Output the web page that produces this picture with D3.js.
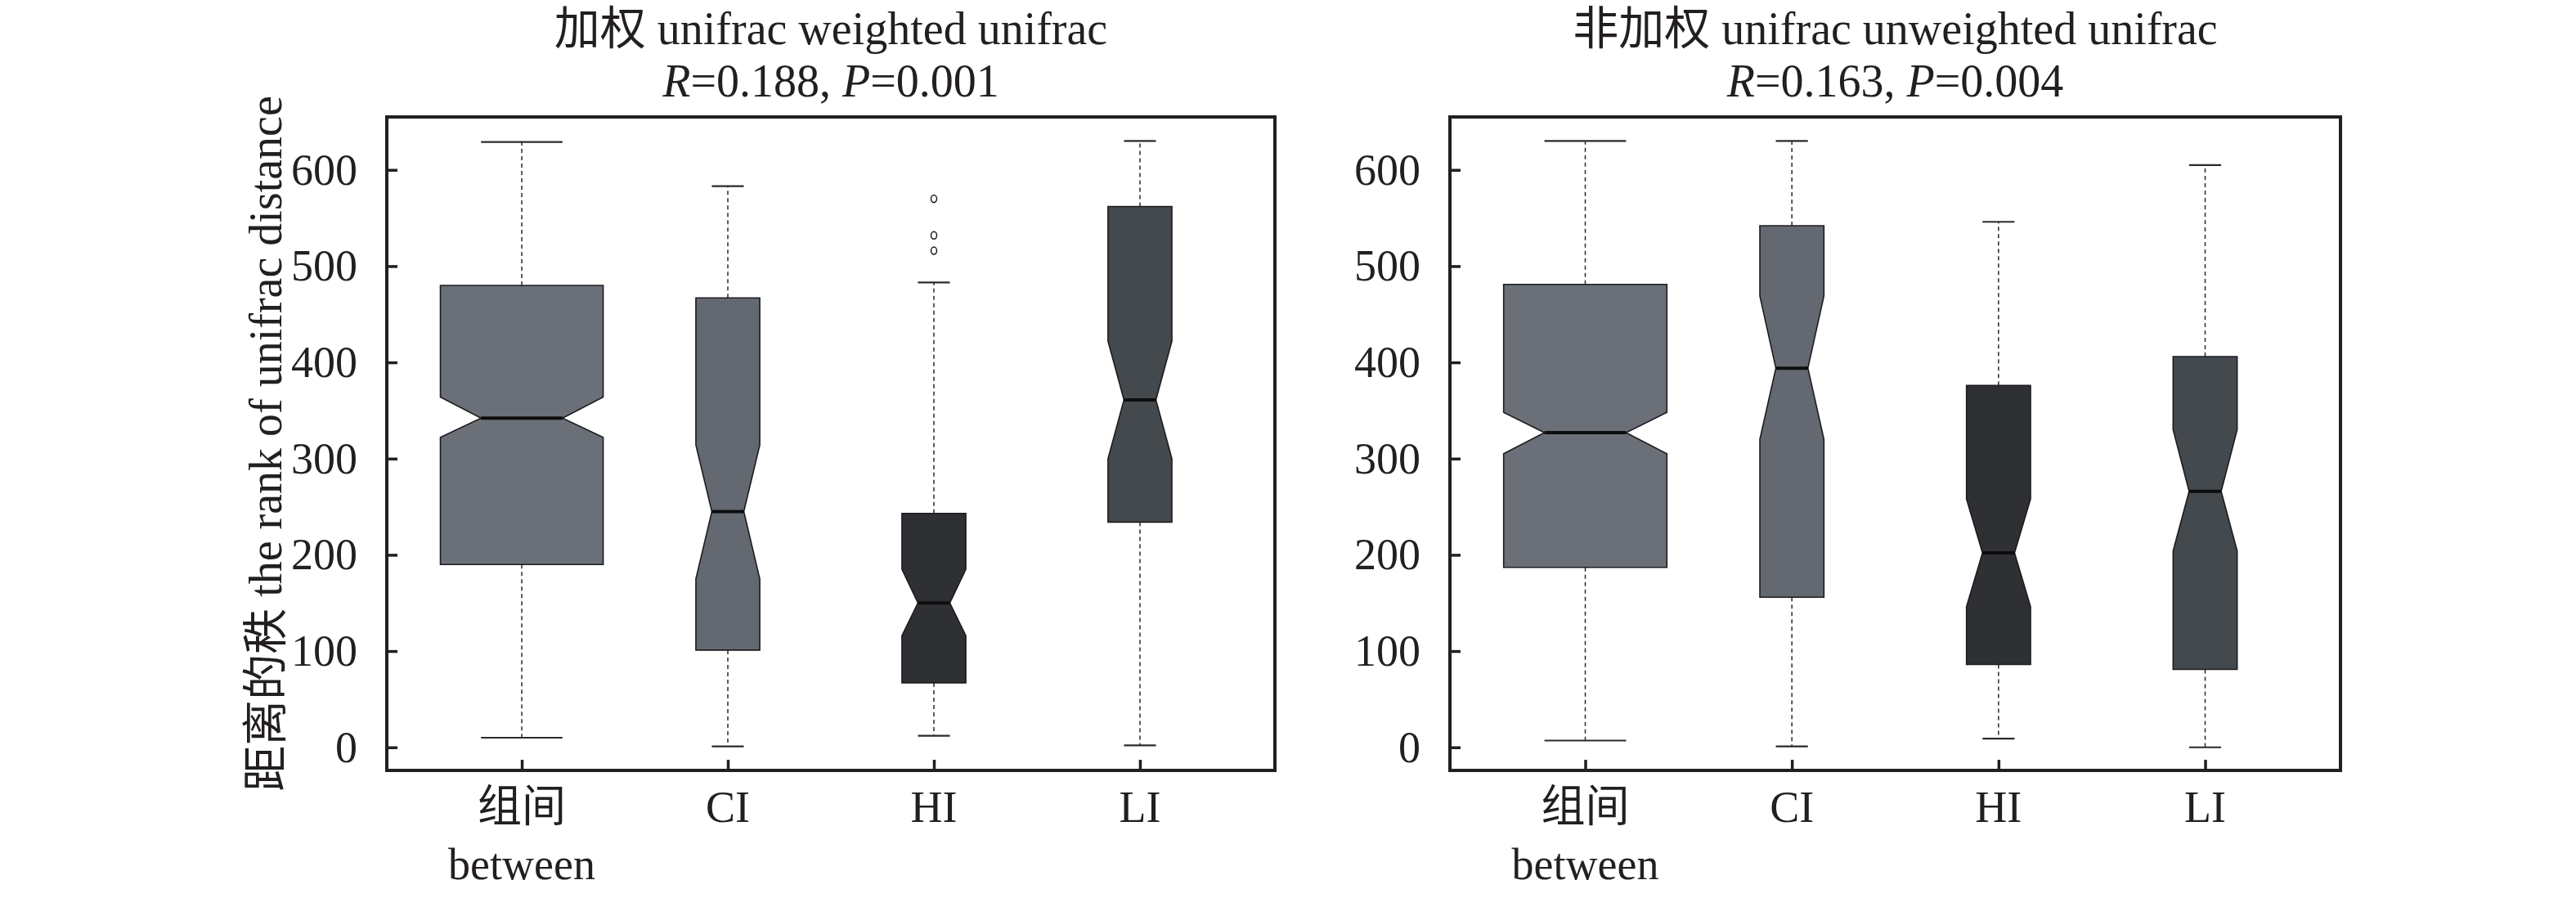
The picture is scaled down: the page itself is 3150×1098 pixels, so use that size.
<!DOCTYPE html>
<html>
<head>
<meta charset="utf-8">
<script src="https://cdn.jsdelivr.net/npm/d3@7"></script>
<style>
  html, body { margin: 0; padding: 0; background: #fff; }
  svg { display: block; }
  text { font-family: "Liberation Serif", "Times New Roman", "Noto Sans CJK SC", serif; fill: #231f20; }
</style>
</head>
<body>
<svg id="chart" width="3150" height="1098"></svg>
<script>
// ---------- data ----------
const categories = ["between", "CI", "HI", "LI"];
const categoryLabelsTop = ["组间", "CI", "HI", "LI"];
const categoryLabelsBottom = ["between", "", "", ""];
const yTicks = [0, 100, 200, 300, 400, 500, 600];

const panelTitles = ["加权 unifrac weighted unifrac", "非加权 unifrac unweighted unifrac"];
const panelR = ["0.188", "0.163"];
const panelP = ["0.001", "0.004"];
const yAxisLabel = "距离的秩 the rank of unifrac distance";

// weighted unifrac
const wWhiskerLow  = [10, 1, 12, 2];
const wQ1          = [190, 101, 67, 234];
const wNotchLow    = [322, 175, 116, 300];
const wMedian      = [342, 245, 150, 361];
const wNotchHigh   = [364, 314, 185, 422];
const wQ3          = [480, 467, 243, 562];
const wWhiskerHigh = [629, 583, 483, 630];
const wOutliers    = [[], [], [516, 532, 570], []];

// unweighted unifrac
const uWhiskerLow  = [7, 1, 9, 0];
const uQ1          = [187, 156, 86, 81];
const uNotchLow    = [305, 320, 146, 204];
const uMedian      = [327, 394, 202, 266];
const uNotchHigh   = [348, 469, 258, 330];
const uQ3          = [481, 542, 376, 406];
const uWhiskerHigh = [630, 630, 546, 605];
const uOutliers    = [[], [], [], []];

// ---------- styles / layout ----------
const boxColors = ["#6b7078", "#646971", "#2e3034", "#44494e"];
const boxWidthFrac = [0.79, 0.31, 0.31, 0.31];
const FONT = 54;
const TITLE_FONT = 56;
const SERIF = "'Liberation Serif', 'Times New Roman', 'Noto Sans CJK SC', serif";

const panels = [
  { x0: 473, x1: 1559, title: panelTitles[0], R: panelR[0], P: panelP[0],
    lo: wWhiskerLow, q1: wQ1, nl: wNotchLow, med: wMedian, nh: wNotchHigh, q3: wQ3, hi: wWhiskerHigh, out: wOutliers, ylabel: true },
  { x0: 1773, x1: 2862, title: panelTitles[1], R: panelR[1], P: panelP[1],
    lo: uWhiskerLow, q1: uQ1, nl: uNotchLow, med: uMedian, nh: uNotchHigh, q3: uQ3, hi: uWhiskerHigh, out: uOutliers, ylabel: false }
];
const plotTop = 143, plotBottom = 942;

const svg = d3.select("#chart");
const y = d3.scaleLinear().domain([-24, 655]).range([plotBottom, plotTop]);

panels.forEach(p => {
  const g = svg.append("g").attr("font-family", SERIF);
  const x = d3.scalePoint().domain(categories).range([p.x0, p.x1]).padding(0.655);
  const step = x.step();
  const cx0 = (p.x0 + p.x1) / 2;

  // title
  g.append("text").attr("x", cx0).attr("y", 54).attr("text-anchor", "middle")
    .style("font-size", TITLE_FONT + "px").text(p.title);
  const t2 = g.append("text").attr("x", cx0).attr("y", 118).attr("text-anchor", "middle")
    .style("font-size", TITLE_FONT + "px");
  t2.append("tspan").style("font-style", "italic").text("R");
  t2.append("tspan").text("=" + p.R + ", ");
  t2.append("tspan").style("font-style", "italic").text("P");
  t2.append("tspan").text("=" + p.P);

  categories.forEach((c, i) => {
    const cx = x(c);
    const hw = step * boxWidthFrac[i] / 2;
    const hm = hw * 0.5;
    const Q3 = y(p.q3[i]), Q1 = y(p.q1[i]), NH = y(p.nh[i]), NL = y(p.nl[i]), MD = y(p.med[i]);
    const HI = y(p.hi[i]), LO = y(p.lo[i]);

    // whiskers
    const wg = g.append("g").attr("stroke", "#2a2a2a").attr("stroke-width", 1.5).attr("stroke-dasharray", "5,4");
    wg.append("line").attr("x1", cx).attr("x2", cx).attr("y1", Q3).attr("y2", HI);
    wg.append("line").attr("x1", cx).attr("x2", cx).attr("y1", Q1).attr("y2", LO);
    // caps
    const cg = g.append("g").attr("stroke", "#2a2a2a").attr("stroke-width", 2.2);
    cg.append("line").attr("x1", cx - hm).attr("x2", cx + hm).attr("y1", HI).attr("y2", HI);
    cg.append("line").attr("x1", cx - hm).attr("x2", cx + hm).attr("y1", LO).attr("y2", LO);

    // notched box
    const poly = [
      [cx - hw, Q3], [cx + hw, Q3], [cx + hw, NH], [cx + hm, MD],
      [cx + hw, NL], [cx + hw, Q1], [cx - hw, Q1], [cx - hw, NL],
      [cx - hm, MD], [cx - hw, NH]
    ];
    g.append("path").attr("d", d3.line()(poly) + "Z")
      .attr("fill", boxColors[i]).attr("stroke", "#1c1c1e").attr("stroke-width", 1.6);
    g.append("line").attr("x1", cx - hm).attr("x2", cx + hm).attr("y1", MD).attr("y2", MD)
      .attr("stroke", "#0d0d0d").attr("stroke-width", 4);

    // outliers
    g.selectAll(null).data(p.out[i]).enter().append("ellipse")
      .attr("cx", cx).attr("cy", d => y(d)).attr("rx", 3.5).attr("ry", 4.5)
      .attr("fill", "none").attr("stroke", "#1a1a1a").attr("stroke-width", 1.5);
  });

  // frame
  g.append("rect").attr("x", p.x0).attr("y", plotTop).attr("width", p.x1 - p.x0).attr("height", plotBottom - plotTop)
    .attr("fill", "none").attr("stroke", "#231f20").attr("stroke-width", 4);

  // y ticks (inward)
  const yAxis = g.append("g").attr("transform", `translate(${p.x0},0)`)
    .call(d3.axisLeft(y).tickValues(yTicks).tickSize(-13).tickPadding(36));
  yAxis.attr("font-family", SERIF).attr("font-size", FONT);
  yAxis.select(".domain").remove();
  yAxis.selectAll(".tick line").attr("stroke", "#231f20").attr("stroke-width", 3.5);
  yAxis.selectAll(".tick text").style("font-size", FONT + "px")
    .style("font-family", SERIF).attr("fill", "#231f20");

  // x ticks (inward)
  const xAxis = g.append("g").attr("transform", `translate(0,${plotBottom})`)
    .call(d3.axisBottom(x).tickSize(-13).tickFormat(""));
  xAxis.select(".domain").remove();
  xAxis.selectAll(".tick line").attr("stroke", "#231f20").attr("stroke-width", 3.5);

  // x labels
  categories.forEach((c, i) => {
    g.append("text").attr("x", x(c)).attr("y", 1005).attr("text-anchor", "middle")
      .style("font-size", FONT + "px").text(categoryLabelsTop[i]);
    if (categoryLabelsBottom[i]) {
      g.append("text").attr("x", x(c)).attr("y", 1075).attr("text-anchor", "middle")
        .style("font-size", FONT + "px").text(categoryLabelsBottom[i]);
    }
  });

  if (p.ylabel) {
    g.append("text").attr("transform", `translate(344,${(plotTop + plotBottom) / 2}) rotate(-90)`)
      .attr("text-anchor", "middle").style("font-size", TITLE_FONT + "px").text(yAxisLabel);
  }
});
</script>
</body>
</html>
